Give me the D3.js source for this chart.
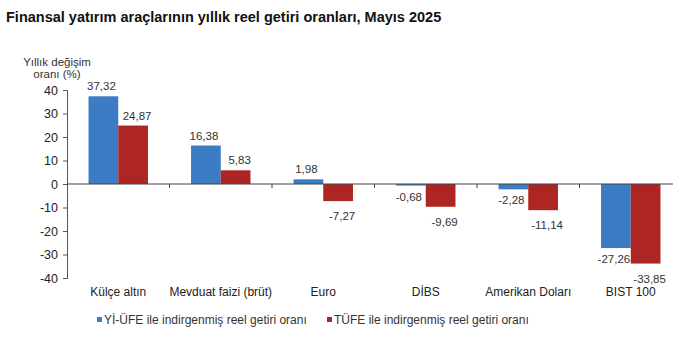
<!DOCTYPE html>
<html>
<head>
<meta charset="utf-8">
<script src="https://cdn.jsdelivr.net/npm/d3@7"></script>
<style>
  body { margin: 0; background: #fff; }
  svg { font-family: Arial, "Liberation Sans", sans-serif; }
</style>
</head>
<body>
<div id="chart"></div>
<script>
// Yıllık reel getiri oranları, Mayıs 2025
const categories = ['Külçe altın', 'Mevduat faizi (brüt)', 'Euro', 'DİBS', 'Amerikan Doları', 'BIST 100'];
const yiUfe = [37.32, 16.38, 1.98, -0.68, -2.28, -27.26];
const tufe = [24.87, 5.83, -7.27, -9.69, -11.14, -33.85];
const seriesNames = ['Yİ-ÜFE ile indirgenmiş reel getiri oranı', 'TÜFE ile indirgenmiş reel getiri oranı'];
const yTicks = [40, 30, 20, 10, 0, -10, -20, -30, -40];

const colors = ['#3b7cc4', '#ae2623'];
const W = 673, H = 353;

// comma decimals, plain hyphen for negatives
const fmt = v => v.toFixed(2).replace('.', ',');

const svg = d3.select('#chart').append('svg')
    .attr('width', W)
    .attr('height', H);

// title
svg.append('text')
    .attr('x', 6)
    .attr('y', 22)
    .style('font-size', '14.5px')
    .style('font-weight', 'bold')
    .attr('fill', '#111')
    .text('Finansal yatırım araçlarının yıllık reel getiri oranları, Mayıs 2025');

// scales - plot continues past the right edge like the original
const x = d3.scaleBand()
    .domain(categories)
    .range([67, 682])
    .paddingInner(0.42)
    .paddingOuter(0.21);

const xSub = d3.scaleBand()
    .domain([0, 1])
    .range([0, x.bandwidth()]);

const y = d3.scaleLinear()
    .domain([-40, 40])
    .range([278, 90]);

// y axis
const yAxis = svg.append('g')
    .attr('transform', 'translate(67,0)')
    .call(d3.axisLeft(y).tickValues(yTicks).tickSize(4).tickPadding(5).tickFormat(d => String(d)));
yAxis.select('.domain').attr('stroke', '#555');
yAxis.selectAll('.tick line').attr('stroke', '#555');
yAxis.selectAll('.tick text')
    .style('font-size', '12.5px')
    .attr('fill', '#222');

// y axis title
svg.append('text')
    .attr('text-anchor', 'middle')
    .style('font-size', '11.5px')
    .attr('fill', '#333')
    .selectAll('tspan')
    .data(['Yıllık değişim', 'oranı (%)'])
    .join('tspan')
    .attr('x', 57)
    .attr('y', (d, i) => 66 + i * 12)
    .text(d => d);

// bars
const groups = svg.selectAll('.grp')
    .data(categories)
    .join('g')
    .attr('class', 'grp')
    .attr('transform', d => `translate(${x(d)},0)`);

[yiUfe, tufe].forEach((vals, s) => {
    groups.append('rect')
        .attr('x', xSub(s))
        .attr('width', xSub.bandwidth())
        .attr('y', (d, i) => y(Math.max(0, vals[i])))
        .attr('height', (d, i) => Math.abs(y(vals[i]) - y(0)))
        .attr('fill', colors[s]);

    groups.append('text')
        .attr('x', xSub(s) + xSub.bandwidth() / 2 + (s === 1 ? 4 : -2))
        .attr('y', (d, i) => vals[i] >= 0 ? y(vals[i]) - 6 : y(vals[i]) + (s === 1 ? 19 : 15))
        .attr('text-anchor', 'middle')
        .style('font-size', '11.5px')
        .attr('fill', '#333')
        .text((d, i) => fmt(vals[i]));
});

// x axis at zero
const xAxis = svg.append('g')
    .attr('transform', `translate(0,${y(0)})`);
xAxis.append('line')
    .attr('x1', 67).attr('x2', 682)
    .attr('stroke', '#444');
xAxis.selectAll('.sep')
    .data(categories.slice(1))
    .join('line')
    .attr('x1', d => x(d) - x.step() * x.paddingInner() / 2)
    .attr('x2', d => x(d) - x.step() * x.paddingInner() / 2)
    .attr('y1', 0).attr('y2', 4)
    .attr('stroke', '#444');

// category labels
svg.selectAll('.cat')
    .data(categories)
    .join('text')
    .attr('x', d => x(d) + x.bandwidth() / 2)
    .attr('y', 296)
    .attr('text-anchor', 'middle')
    .style('font-size', '12px')
    .attr('fill', '#222')
    .text(d => d);

// legend
const legendX = [97, 327];
const legend = svg.selectAll('.legend')
    .data(seriesNames)
    .join('g')
    .attr('transform', (d, i) => `translate(${legendX[i]},324)`);
legend.append('rect')
    .attr('x', 0).attr('y', -7)
    .attr('width', 5).attr('height', 5)
    .attr('fill', (d, i) => colors[i]);
legend.append('text')
    .attr('x', 7)
    .attr('y', 0)
    .style('font-size', '12px')
    .attr('fill', '#333')
    .text(d => d);
</script>
</body>
</html>
